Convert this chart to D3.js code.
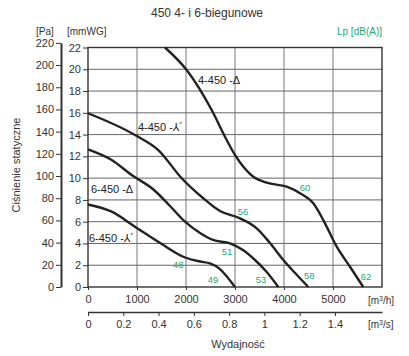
<!DOCTYPE html>
<html><head><meta charset="utf-8">
<script src="https://cdn.jsdelivr.net/npm/d3@7"></script>
<style>
body{margin:0;background:#fff;}
text{font-family:"Liberation Sans","DejaVu Sans",sans-serif;}
</style></head>
<body><svg id="c" width="409" height="356"></svg>
<script>
// ---- data ----
const curveNames = ["4-450 -Δ", "4-450 -⅄", "6-450 -Δ", "6-450 -⅄"];
const flow4D = [1571, 2014, 2524, 2831, 3000, 3373, 3647, 4055, 4327, 4598, 4802, 5076, 5347, 5618];
const pres4D = [22, 19.93, 16.26, 13.5, 12.13, 10.13, 9.58, 9.21, 8.61, 7.69, 6.15, 3.70, 1.86, 0];
const flow4Y = [0, 959, 1435, 1912, 2353, 2694, 3102, 3443, 3714, 3986, 4245, 4496];
const pres4Y = [15.96, 13.96, 12.58, 9.99, 8.15, 6.98, 6.31, 5.39, 4.04, 2.48, 1.19, 0];
const flow6D = [0, 484, 891, 1347, 1673, 1980, 2286, 2551, 2898, 3163, 3408, 3647, 3884];
const pres6D = [12.65, 11.67, 10.29, 8.91, 7.44, 6.0, 4.96, 4.32, 4.01, 3.40, 2.48, 1.38, 0];
const flow6Y = [0, 484, 959, 1504, 1980, 2286, 2490, 2694, 2857, 3000];
const pres6Y = [7.58, 6.92, 5.54, 3.95, 2.71, 2.34, 2.16, 1.65, 0.83, 0];
// curve label anchors (flow m3/h, pressure mmWG)
const nameFlow = [2245, 1020, 61, 20];
const namePres = [18.65, 14.33, 8.63, 4.13];
// sound levels Lp dB(A) with anchors
const dbValues = [60, 56, 51, 48, 49, 53, 58, 62];
const dbFlow = [4429, 3163, 2837, 1843, 2551, 3531, 4516, 5673];
const dbPres = [9.09, 6.8, 3.2, 2.0, 0.64, 0.64, 1.0, 0.9];
// ticks
const flowTicks = [0, 1000, 2000, 3000, 4000, 5000];
const flowGrid = [1000, 2000, 3000, 4000, 5000];
const flowSecTicks = [0, 0.2, 0.4, 0.6, 0.8, 1, 1.2, 1.4];
const mmTicks = [0, 2, 4, 6, 8, 10, 12, 14, 16, 18, 20, 22];
const paTicks = [0, 20, 40, 60, 80, 100, 120, 140, 160, 180, 200, 220];

// ---- layout ----
const svg = d3.select("#c");
const L = 88, R = 382, T = 47.5, B = 287;
const x = d3.scaleLinear().domain([0, 6000]).range([L, R]);
const y = d3.scaleLinear().domain([0, 22]).range([B, T]);
const yPa = d3.scaleLinear().domain([0, 220]).range([B, y(220 / 9.81)]);
const x2 = d3.scaleLinear().domain([0, 6000 / 3600]).range([L, R]);
const green = "#1fa774";
const ink = "#333";

// grid
const g = svg.append("g");
g.selectAll("line.h").data(mmTicks.slice(1, -1)).join("line")
  .attr("x1", L).attr("x2", R).attr("y1", d => y(d)).attr("y2", d => y(d))
  .attr("stroke", "#666").attr("stroke-width", 1);
g.selectAll("line.v").data(flowGrid).join("line")
  .attr("x1", d => x(d)).attr("x2", d => x(d)).attr("y1", T).attr("y2", B)
  .attr("stroke", "#777").attr("stroke-width", 1);
// border
svg.append("rect").attr("x", L).attr("y", T).attr("width", R - L).attr("height", B - T)
  .attr("fill", "none").attr("stroke", "#333").attr("stroke-width", 1.4);

// mmWG axis
const axMm = svg.append("g").attr("transform", `translate(${L},0)`)
  .call(d3.axisLeft(y).tickValues(mmTicks).tickSize(5).tickPadding(2));
// Pa axis
const axPa = svg.append("g").attr("transform", `translate(61,0)`)
  .call(d3.axisLeft(yPa).tickValues(paTicks).tickSize(5).tickPadding(2).tickSizeOuter(0));
// flow m3/h axis
const axX = svg.append("g").attr("transform", `translate(0,${B})`)
  .call(d3.axisBottom(x).tickValues(flowTicks).tickSize(3).tickPadding(5).tickFormat(d3.format("d")));
// flow m3/s axis
const axX2 = svg.append("g").attr("transform", `translate(0,312)`)
  .call(d3.axisBottom(x2).tickValues(flowSecTicks).tickSize(4).tickPadding(4).tickSizeOuter(0)
    .tickFormat(d3.format("~g")));
[axMm, axPa, axX, axX2].forEach(a => {
  a.selectAll("text").style("font-size", "11px").style("fill", ink);
  a.selectAll("line").attr("stroke", "#333");
  a.select(".domain").attr("stroke", "#333");
});
axMm.select(".domain").remove();
axX.select(".domain").remove();
axPa.select(".domain").attr("stroke-width", 2);
axX2.select(".domain").attr("stroke-width", 1.5);

// curves
const line = d3.line().x(d => x(d[0])).y(d => y(d[1])).curve(d3.curveMonotoneX);
const curves = [[flow4D, pres4D], [flow4Y, pres4Y], [flow6D, pres6D], [flow6Y, pres6Y]];
svg.append("g").selectAll("path").data(curves).join("path")
  .attr("d", c => line(c[0].map((f, i) => [f, c[1][i]])))
  .attr("fill", "none").attr("stroke", "#222").attr("stroke-width", 2.4);

// curve names
const nl = svg.append("g").selectAll("text").data(curveNames).join("text")
  .attr("x", (d, i) => x(nameFlow[i])).attr("y", (d, i) => y(namePres[i]))
  .style("font-size", "11px").style("fill", "#222");
nl.append("tspan").text(d => d);
nl.filter(d => d.endsWith("⅄")).append("tspan").text("*").attr("dy", -5).style("font-size", "6px");

// dB labels
svg.append("g").selectAll("text").data(dbValues).join("text")
  .attr("x", (d, i) => x(dbFlow[i])).attr("y", (d, i) => y(dbPres[i]))
  .attr("text-anchor", "middle").attr("dominant-baseline", "middle")
  .style("font-size", "9.5px").style("fill", green).text(d => d);

// titles
svg.append("text").attr("x", 207).attr("y", 17).attr("text-anchor", "middle")
  .style("font-size", "12px").style("fill", ink).text("450 4- i 6-biegunowe");
svg.append("text").attr("x", 382).attr("y", 35).attr("text-anchor", "end")
  .style("font-size", "10px").style("fill", green).text("Lp [dB(A)]");
svg.append("text").attr("x", 36).attr("y", 35).style("font-size", "10px").style("fill", ink).text("[Pa]");
svg.append("text").attr("x", 67).attr("y", 35).style("font-size", "10px").style("fill", ink).text("[mmWG]");
svg.append("text").attr("transform", "translate(20,165) rotate(-90)").attr("text-anchor", "middle")
  .style("font-size", "11px").style("fill", ink).text("Ciśnienie statyczne");
svg.append("text").attr("x", 238).attr("y", 348).attr("text-anchor", "middle")
  .style("font-size", "11px").style("fill", ink).text("Wydajność");
const u1 = svg.append("text").attr("x", 368).attr("y", 304).style("font-size", "10px").style("fill", ink);
u1.append("tspan").text("[m");
u1.append("tspan").text("3").attr("dy", -3).style("font-size", "7px");
u1.append("tspan").text("/h]").attr("dy", 3);
const u2 = svg.append("text").attr("x", 368).attr("y", 328).style("font-size", "10px").style("fill", ink);
u2.append("tspan").text("[m");
u2.append("tspan").text("3").attr("dy", -3).style("font-size", "7px");
u2.append("tspan").text("/s]").attr("dy", 3);
</script></body></html>
